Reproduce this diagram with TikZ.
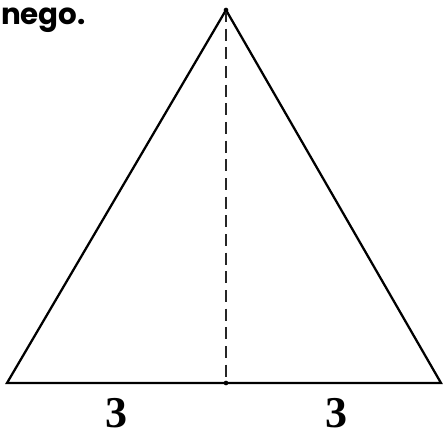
\documentclass[tikz,border=0pt]{standalone}
\usepackage{fontspec}
\setmainfont{Liberation Serif}
\newfontfamily\captionfont{Poppins}
\tikzset{
  tri/.style={
    x=0.75pt, y=-0.75pt,
    line width=1.7pt,
  },
  side/.style={draw=black, line join=miter},
  height/.style={draw=black!85, dash pattern=on 9pt off 5pt},
  lenlbl/.style={font=\bfseries\fontsize{33}{36}\selectfont, inner sep=0pt},
  toptext/.style={font=\captionfont\bfseries\fontsize{22}{26}\selectfont, inner sep=0pt, anchor=base west},
  vdot/.style={circle, fill=black, inner sep=0pt, minimum size=3.5pt},
}
\begin{document}
\begin{tikzpicture}[tri]
  \useasboundingbox (0,0) rectangle (443,435);
  \coordinate (apex) at (226,10);
  \coordinate (left) at (7,383);
  \coordinate (right) at (441,383);
  \coordinate (foot) at (226,383);

  \draw[side] (left) -- (apex) -- (right) -- cycle;
  \draw[height] (apex) -- (foot);
  \node[vdot] (apexdot) at (apex) {};
  \node[vdot] (footdot) at (foot) {};

  \node[lenlbl] (lefthalf) at (116,413) {3};
  \node[lenlbl] (righthalf) at (336,413) {3};
  \node[toptext] (note) at (0,25) {nego.};
\end{tikzpicture}
\end{document}
